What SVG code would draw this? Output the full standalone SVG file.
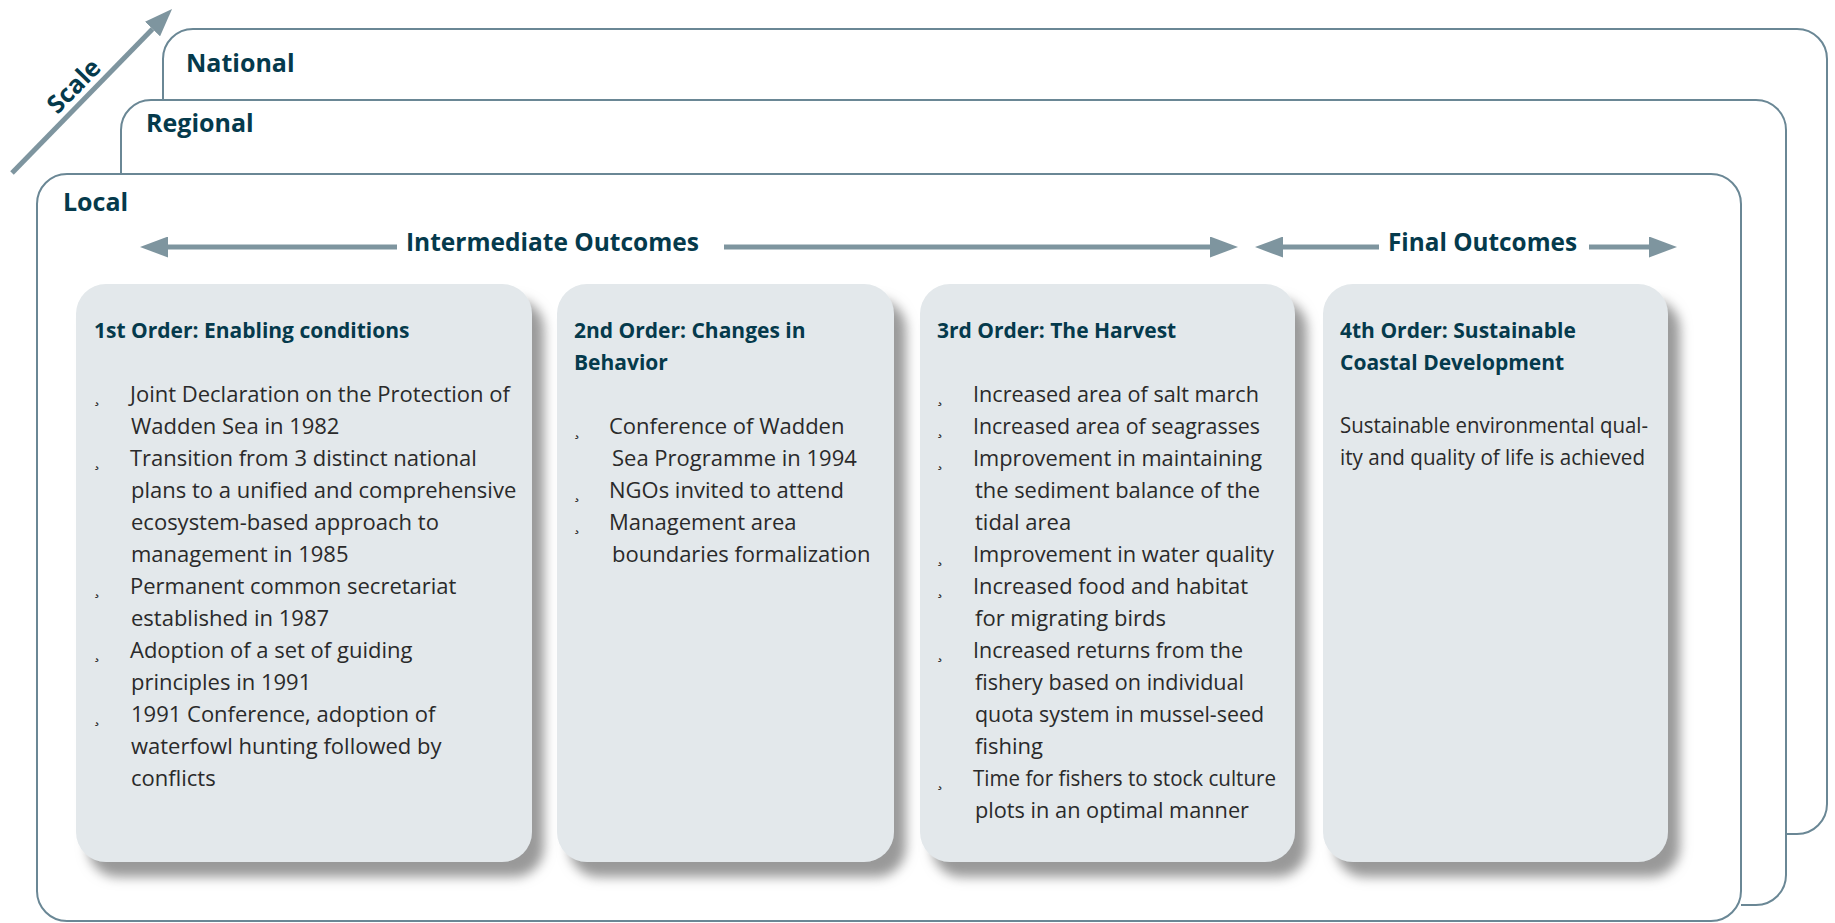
<svg xmlns="http://www.w3.org/2000/svg" width="1835" height="923" viewBox="0 0 1835 923">
<defs>
<style>
.frame{fill:none;stroke:#6a8795;stroke-width:2}
.card{fill:#e3e8eb;filter:url(#sh)}
.conn{stroke:#7e959f;stroke-width:5;fill:none}
.lbl{font-family:"Open Sans","Liberation Sans",sans-serif;font-weight:700;font-size:25px;fill:#053a4c}
.ttl{font-family:"Open Sans","Liberation Sans",sans-serif;font-weight:700;font-size:21px;fill:#053a4c}
.body{font-family:"Open Sans","Liberation Sans",sans-serif;font-weight:400;font-size:22px;fill:#2a2a2a}
.bul{font-family:"Open Sans","Liberation Sans",sans-serif;font-size:16px;fill:#2a2a2a}
</style>
<marker id="ah" markerUnits="userSpaceOnUse" markerWidth="28" markerHeight="21" viewBox="0 0 28 21" refX="0" refY="10.5" orient="auto">
<path d="M0,0 L28,10.5 L0,21 Z" fill="#7e959f"/>
</marker>
<filter id="sh" x="-10%" y="-10%" width="130%" height="130%">
<feGaussianBlur in="SourceAlpha" stdDeviation="6"/>
<feOffset dx="12" dy="15" result="b"/>
<feFlood flood-color="#999999"/>
<feComposite in2="b" operator="in"/>
<feMerge><feMergeNode/><feMergeNode in="SourceGraphic"/></feMerge>
</filter>
</defs>
<rect width="1835" height="923" fill="#ffffff"/>

<g id="frame-national">
<path class="frame" d="M163,101 V59 A30,30 0 0 1 193,29 H1797 A30,30 0 0 1 1827,59 V804 A30,30 0 0 1 1797,834 H1786"/>
<text class="lbl" x="186" y="72">National</text>
</g>
<g id="frame-regional">
<path class="frame" d="M121,174 V130 A30,30 0 0 1 151,100 H1756 A30,30 0 0 1 1786,130 V875 A30,30 0 0 1 1756,905 H1741"/>
<text class="lbl" x="146" y="132">Regional</text>
</g>
<g id="frame-local">
<rect class="frame" x="37" y="174" width="1704" height="747" rx="30" ry="30"/>
<text class="lbl" x="63" y="211">Local</text>
</g>

<g id="connectors">
<line class="conn" x1="12" y1="173" x2="152.5" y2="29" marker-end="url(#ah)"/>
<line class="conn" x1="397" y1="247" x2="168" y2="247" marker-end="url(#ah)"/>
<line class="conn" x1="724" y1="247" x2="1210" y2="247" marker-end="url(#ah)"/>
<line class="conn" x1="1379" y1="247" x2="1283" y2="247" marker-end="url(#ah)"/>
<line class="conn" x1="1589" y1="247" x2="1649" y2="247" marker-end="url(#ah)"/>
</g>

<g id="scale-label">
<text class="lbl" x="80" y="92" text-anchor="middle" transform="rotate(-45.7 80 92)">Scale</text>
</g>
<g id="label-intermediate">
<text class="lbl" x="406" y="251" textLength="293" lengthAdjust="spacingAndGlyphs">Intermediate Outcomes</text>
</g>
<g id="label-final">
<text class="lbl" x="1388" y="251" textLength="189" lengthAdjust="spacingAndGlyphs">Final Outcomes</text>
</g>

<g id="card1">
<rect class="card" x="76" y="284" width="456" height="578" rx="30" ry="30"/>
<text class="ttl" x="94" y="338">1st Order: Enabling conditions</text>
<text class="bul" x="95" y="402">¸</text>
<text class="bul" x="95" y="466">¸</text>
<text class="bul" x="95" y="594">¸</text>
<text class="bul" x="95" y="658">¸</text>
<text class="bul" x="95" y="722">¸</text>
<text class="body" x="130" y="402">Joint Declaration on the Protection of</text>
<text class="body" x="131" y="434">Wadden Sea in 1982</text>
<text class="body" x="130" y="466">Transition from 3 distinct national</text>
<text class="body" x="131" y="498">plans to a unified and comprehensive</text>
<text class="body" x="131" y="530">ecosystem-based approach to</text>
<text class="body" x="131" y="562">management in 1985</text>
<text class="body" x="130" y="594">Permanent common secretariat</text>
<text class="body" x="131" y="626">established in 1987</text>
<text class="body" x="130" y="658">Adoption of a set of guiding</text>
<text class="body" x="131" y="690">principles in 1991</text>
<text class="body" x="131" y="722">1991 Conference, adoption of</text>
<text class="body" x="131" y="754">waterfowl hunting followed by</text>
<text class="body" x="131" y="786">conflicts</text>
</g>

<g id="card2">
<rect class="card" x="557" y="284" width="337" height="578" rx="30" ry="30"/>
<text class="ttl" x="574" y="338">2nd Order: Changes in</text>
<text class="ttl" x="574" y="370">Behavior</text>
<text class="bul" x="575" y="435">¸</text>
<text class="bul" x="575" y="498">¸</text>
<text class="bul" x="575" y="530">¸</text>
<text class="body" x="609" y="434">Conference of Wadden</text>
<text class="body" x="612" y="466">Sea Programme in 1994</text>
<text class="body" x="609" y="498">NGOs invited to attend</text>
<text class="body" x="609" y="530">Management area</text>
<text class="body" x="612" y="562">boundaries formalization</text>
</g>

<g id="card3">
<rect class="card" x="920" y="284" width="375" height="578" rx="30" ry="30"/>
<text class="ttl" x="937" y="338">3rd Order: The Harvest</text>
<text class="bul" x="938" y="402">¸</text>
<text class="bul" x="938" y="434">¸</text>
<text class="bul" x="938" y="466">¸</text>
<text class="bul" x="938" y="562">¸</text>
<text class="bul" x="938" y="594">¸</text>
<text class="bul" x="938" y="658">¸</text>
<text class="bul" x="938" y="786">¸</text>
<text class="body" x="973" y="402" textLength="286" lengthAdjust="spacingAndGlyphs">Increased area of salt march</text>
<text class="body" x="973" y="434" textLength="287" lengthAdjust="spacingAndGlyphs">Increased area of seagrasses</text>
<text class="body" x="973" y="466" textLength="289" lengthAdjust="spacingAndGlyphs">Improvement in maintaining</text>
<text class="body" x="975" y="498" textLength="285" lengthAdjust="spacingAndGlyphs">the sediment balance of the</text>
<text class="body" x="975" y="530">tidal area</text>
<text class="body" x="973" y="562" textLength="301" lengthAdjust="spacingAndGlyphs">Improvement in water quality</text>
<text class="body" x="973" y="594" textLength="275" lengthAdjust="spacingAndGlyphs">Increased food and habitat</text>
<text class="body" x="975" y="626">for migrating birds</text>
<text class="body" x="973" y="658" textLength="270" lengthAdjust="spacingAndGlyphs">Increased returns from the</text>
<text class="body" x="975" y="690" textLength="269" lengthAdjust="spacingAndGlyphs">fishery based on individual</text>
<text class="body" x="975" y="722" textLength="289" lengthAdjust="spacingAndGlyphs">quota system in mussel-seed</text>
<text class="body" x="975" y="754">fishing</text>
<text class="body" x="973" y="786" textLength="303" lengthAdjust="spacingAndGlyphs">Time for fishers to stock culture</text>
<text class="body" x="975" y="818" textLength="274" lengthAdjust="spacingAndGlyphs">plots in an optimal manner</text>
</g>

<g id="card4">
<rect class="card" x="1323" y="284" width="345" height="578" rx="30" ry="30"/>
<text class="ttl" x="1340" y="338">4th Order: Sustainable</text>
<text class="ttl" x="1340" y="370">Coastal Development</text>
<text class="body" x="1340" y="433" textLength="308" lengthAdjust="spacingAndGlyphs">Sustainable environmental qual-</text>
<text class="body" x="1340" y="465" textLength="305" lengthAdjust="spacingAndGlyphs">ity and quality of life is achieved</text>
</g>
</svg>
